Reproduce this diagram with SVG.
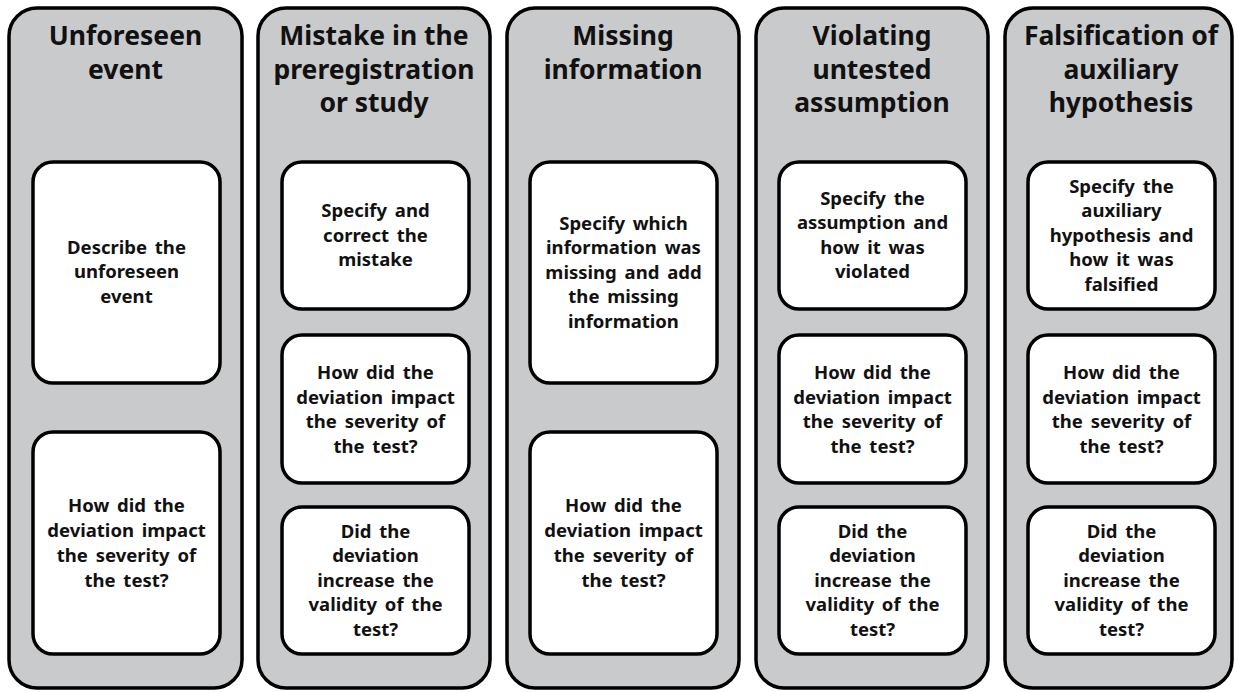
<svg xmlns="http://www.w3.org/2000/svg" width="1234" height="692" viewBox="0 0 1234 692">
<style>
.col{fill:#c9cacc;stroke:#000;stroke-width:3.5}
.box{fill:#fff;stroke:#000;stroke-width:3.5}
.t{font-family:"Noto Sans","Open Sans","DejaVu Sans",sans-serif;font-weight:700;font-size:26.5px;text-anchor:middle;fill:#111}
.b{font-family:"Noto Sans","Open Sans","DejaVu Sans",sans-serif;font-weight:700;font-size:18.5px;text-anchor:middle;fill:#111;word-spacing:3px}
</style>
<rect width="1234" height="692" fill="#fff"/>
<g id="connectors"></g>

<g id="col1">
<rect class="col" x="9" y="8" width="233" height="680" rx="28"/>
<text class="t" x="125.5" y="45">Unforeseen</text>
<text class="t" x="125.5" y="79">event</text>
<g id="col1-box1">
<rect class="box" x="33" y="162" width="187" height="221" rx="20"/>
<text class="b" x="126.5" y="253.5">Describe the</text>
<text class="b" x="126.5" y="278">unforeseen</text>
<text class="b" x="126.5" y="302.5">event</text>
</g>
<g id="col1-box2">
<rect class="box" x="33" y="432" width="187" height="222" rx="20"/>
<text class="b" x="126.5" y="512">How did the</text>
<text class="b" x="126.5" y="537">deviation impact</text>
<text class="b" x="126.5" y="562">the severity of</text>
<text class="b" x="126.5" y="587">the test?</text>
</g>
</g>

<g id="col2">
<rect class="col" x="258" y="8" width="232" height="680" rx="28"/>
<text class="t" x="374" y="45">Mistake in the</text>
<text class="t" x="374" y="78.5">preregistration</text>
<text class="t" x="374" y="112">or study</text>
<g id="col2-box1">
<rect class="box" x="282" y="162" width="187" height="147" rx="20"/>
<text class="b" x="375.5" y="217">Specify and</text>
<text class="b" x="375.5" y="241.5">correct the</text>
<text class="b" x="375.5" y="266">mistake</text>
</g>
<g id="col2-box2">
<rect class="box" x="282" y="335" width="187" height="148" rx="20"/>
<text class="b" x="375.5" y="379">How did the</text>
<text class="b" x="375.5" y="404">deviation impact</text>
<text class="b" x="375.5" y="428">the severity of</text>
<text class="b" x="375.5" y="453">the test?</text>
</g>
<g id="col2-box3">
<rect class="box" x="282" y="507" width="187" height="147" rx="20"/>
<text class="b" x="375.5" y="537.5">Did the</text>
<text class="b" x="375.5" y="562">deviation</text>
<text class="b" x="375.5" y="586.5">increase the</text>
<text class="b" x="375.5" y="611">validity of the</text>
<text class="b" x="375.5" y="635.5">test?</text>
</g>
</g>

<g id="col3">
<rect class="col" x="507" y="8" width="232" height="680" rx="28"/>
<text class="t" x="623" y="45">Missing</text>
<text class="t" x="623" y="79">information</text>
<g id="col3-box1">
<rect class="box" x="530" y="162" width="187" height="221" rx="20"/>
<text class="b" x="623.5" y="229.5">Specify which</text>
<text class="b" x="623.5" y="254">information was</text>
<text class="b" x="623.5" y="278.5">missing and add</text>
<text class="b" x="623.5" y="303">the missing</text>
<text class="b" x="623.5" y="327.5">information</text>
</g>
<g id="col3-box2">
<rect class="box" x="530" y="432" width="187" height="222" rx="20"/>
<text class="b" x="623.5" y="512">How did the</text>
<text class="b" x="623.5" y="537">deviation impact</text>
<text class="b" x="623.5" y="562">the severity of</text>
<text class="b" x="623.5" y="587">the test?</text>
</g>
</g>

<g id="col4">
<rect class="col" x="756" y="8" width="232" height="680" rx="28"/>
<text class="t" x="872" y="45">Violating</text>
<text class="t" x="872" y="78.5">untested</text>
<text class="t" x="872" y="112">assumption</text>
<g id="col4-box1">
<rect class="box" x="779" y="162" width="187" height="147" rx="20"/>
<text class="b" x="872.5" y="204.5">Specify the</text>
<text class="b" x="872.5" y="229">assumption and</text>
<text class="b" x="872.5" y="253.5">how it was</text>
<text class="b" x="872.5" y="278">violated</text>
</g>
<g id="col4-box2">
<rect class="box" x="779" y="335" width="187" height="148" rx="20"/>
<text class="b" x="872.5" y="379">How did the</text>
<text class="b" x="872.5" y="404">deviation impact</text>
<text class="b" x="872.5" y="428">the severity of</text>
<text class="b" x="872.5" y="453">the test?</text>
</g>
<g id="col4-box3">
<rect class="box" x="779" y="507" width="187" height="147" rx="20"/>
<text class="b" x="872.5" y="537.5">Did the</text>
<text class="b" x="872.5" y="562">deviation</text>
<text class="b" x="872.5" y="586.5">increase the</text>
<text class="b" x="872.5" y="611">validity of the</text>
<text class="b" x="872.5" y="635.5">test?</text>
</g>
</g>

<g id="col5">
<rect class="col" x="1005" y="8" width="227" height="680" rx="28"/>
<text class="t" x="1121" y="45">Falsification of</text>
<text class="t" x="1121" y="78.5">auxiliary</text>
<text class="t" x="1121" y="112">hypothesis</text>
<g id="col5-box1">
<rect class="box" x="1028" y="162" width="187" height="147" rx="20"/>
<text class="b" x="1121.5" y="192.5">Specify the</text>
<text class="b" x="1121.5" y="217">auxiliary</text>
<text class="b" x="1121.5" y="241.5">hypothesis and</text>
<text class="b" x="1121.5" y="266">how it was</text>
<text class="b" x="1121.5" y="290.5">falsified</text>
</g>
<g id="col5-box2">
<rect class="box" x="1028" y="335" width="187" height="148" rx="20"/>
<text class="b" x="1121.5" y="379">How did the</text>
<text class="b" x="1121.5" y="404">deviation impact</text>
<text class="b" x="1121.5" y="428">the severity of</text>
<text class="b" x="1121.5" y="453">the test?</text>
</g>
<g id="col5-box3">
<rect class="box" x="1028" y="507" width="187" height="147" rx="20"/>
<text class="b" x="1121.5" y="537.5">Did the</text>
<text class="b" x="1121.5" y="562">deviation</text>
<text class="b" x="1121.5" y="586.5">increase the</text>
<text class="b" x="1121.5" y="611">validity of the</text>
<text class="b" x="1121.5" y="635.5">test?</text>
</g>
</g>
</svg>
